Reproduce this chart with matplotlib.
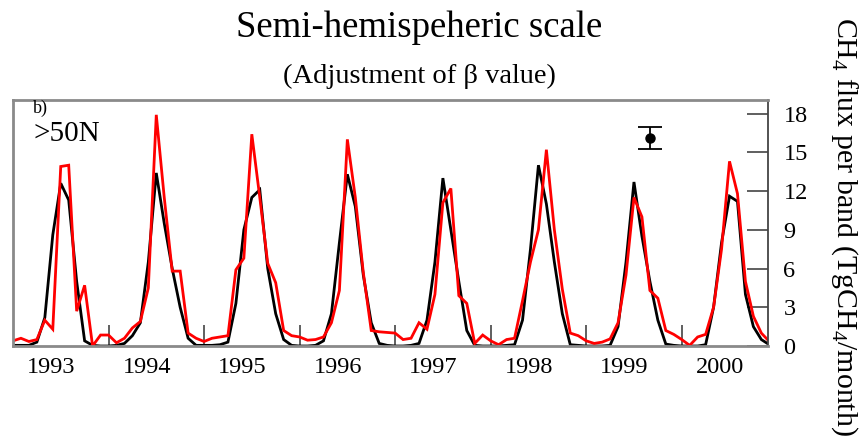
import numpy as np
import matplotlib
matplotlib.use("Agg")
import matplotlib.pyplot as plt

plt.rcParams['font.family'] = ['Liberation Serif', 'DejaVu Serif']
plt.rcParams['mathtext.fontset'] = 'custom'
plt.rcParams['mathtext.rm'] = 'Liberation Serif'

start_year = 1993
year_labels = [1993, 1994, 1995, 1996, 1997, 1998, 1999, 2000]

# monthly flux, Jan 1993 onward (TgCH4/month)
black_flux = [0.05, 0.05, 0.05, 0.3, 2.2, 8.6, 12.6, 11.3, 5.0, 0.4, 0.05, 0.0,
              0.0, 0.05, 0.2, 0.8, 1.8, 6.5, 13.4, 9.5, 6.0, 3.0, 0.6, 0.05,
              0.05, 0.05, 0.1, 0.3, 3.3, 9.0, 11.5, 12.1, 6.0, 2.5, 0.5, 0.05,
              0.0, 0.0, 0.05, 0.4, 2.5, 8.0, 13.3, 10.8, 5.5, 1.8, 0.2, 0.05,
              0.0, 0.0, 0.05, 0.2, 2.0, 6.5, 13.0, 9.0, 5.0, 1.2, 0.05, 0.0,
              0.0, 0.0, 0.05, 0.1, 2.0, 7.5, 14.0, 11.0, 6.5, 2.5, 0.1, 0.05,
              0.0, 0.0, 0.0, 0.05, 1.5, 6.5, 12.7, 8.5, 5.0, 2.0, 0.15, 0.05,
              0.0, 0.0, 0.0, 0.1, 3.0, 8.0, 11.6, 11.2, 4.0, 1.5, 0.5, 0.1]

red_flux = [0.4, 0.6, 0.35, 0.5, 2.0, 1.3, 13.9, 14.0, 2.7, 4.7, 0.0, 0.85,
            0.85, 0.25, 0.6, 1.4, 1.9, 4.5, 17.9, 11.5, 5.8, 5.8, 1.0, 0.6,
            0.35, 0.6, 0.7, 0.8, 5.9, 6.8, 16.4, 11.5, 6.4, 4.9, 1.2, 0.8,
            0.7, 0.45, 0.5, 0.7, 1.8, 4.3, 16.0, 11.5, 5.7, 1.2, 1.1, 1.05,
            1.0, 0.5, 0.6, 1.8, 1.3, 4.0, 11.1, 12.2, 3.9, 3.3, 0.2, 0.85,
            0.4, 0.1, 0.5, 0.6, 3.5, 6.5, 9.0, 15.2, 9.0, 4.4, 1.0, 0.8,
            0.4, 0.2, 0.3, 0.55, 1.8, 5.5, 11.5, 10.0, 4.3, 3.7, 1.2, 0.9,
            0.5, 0.05, 0.7, 0.9, 3.0, 7.5, 14.3, 11.8, 5.0, 2.3, 1.0, 0.35]

# representative error bar
err_x = 1999.67
err_y = 16.1
err_size = 0.82

yticks = [0, 3, 6, 9, 12, 15, 18]

t = start_year + np.arange(len(black_flux)) / 12.0

fig = plt.figure(figsize=(8.65, 4.44), dpi=100)
ax = fig.add_axes([0.015, 0.2207, 0.873, 0.5541])

ax.plot(t, black_flux, color='black', lw=2.0, solid_joinstyle='miter')
ax.plot(t, red_flux, color='#ff0000', lw=2.0, solid_joinstyle='miter')
ax.errorbar([err_x], [err_y], yerr=[[err_size], [err_size]], fmt='o', color='black',
            ms=6.5, capsize=8.5, elinewidth=1.3, capthick=1.3)

ax.set_xlim(1993.0, 1993 + 94.85 / 12)
ax.set_ylim(0, 19.05)

# y axis on the right
ax.yaxis.tick_right()
ax.set_yticks(yticks)
ax.set_yticklabels([str(v) for v in yticks], fontsize=17.5)
ax.tick_params(axis='y', which='major', direction='in', length=15, width=1.2,
               color='#444444', pad=11, right=True, left=False)

# x axis: year boundary ticks inside, labels offset
ax.set_xticks([y for y in year_labels[1:]])
ax.set_xticklabels([])
ax.tick_params(axis='x', which='major', direction='in', length=15, width=1.2,
               color='#444444')
ax.set_xticks([y + 0.40 for y in year_labels], minor=True)
ax.set_xticklabels([str(y) for y in year_labels], minor=True, fontsize=17.5)
ax.tick_params(axis='x', which='minor', length=0, pad=8)

for side in ['left', 'bottom', 'top']:
    ax.spines[side].set_color('#8a8a8a')
    ax.spines[side].set_linewidth(2.0)
ax.spines['right'].set_color('#444444')
ax.spines['right'].set_linewidth(1.3)

ax.text(0.027, 1.0, 'b)', transform=ax.transAxes, fontsize=13, va='top', ha='left')
ax.text(0.027, 0.915, '>50N', transform=ax.transAxes, fontsize=21, va='top', ha='left')

fig.text(0.485, 0.937, 'Semi-hemispeheric scale', fontsize=26.5, ha='center', va='center')
fig.text(0.485, 0.827, r'(Adjustment of β value)', fontsize=20.5, ha='center', va='center')

fig.text(0.976, 0.49, r'CH$_\mathregular{4}$ flux per band (TgCH$_\mathregular{4}$/month)',
         fontsize=21.5, rotation=270, ha='center', va='center')

fig.savefig('out.png', dpi=100)
